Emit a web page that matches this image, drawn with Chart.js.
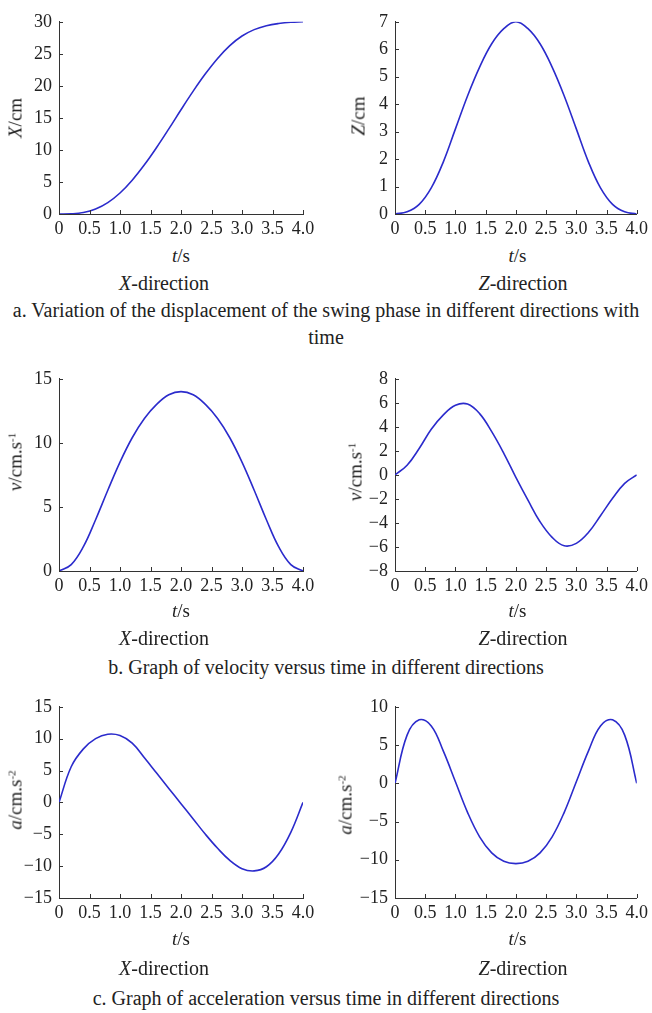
<!DOCTYPE html>
<html>
<head>
<meta charset="utf-8">
<script src="https://cdn.jsdelivr.net/npm/chart.js@4.4.1/dist/chart.umd.min.js"></script>
<style>
  body { margin: 0; background: #fff; }
  #page { position: relative; width: 652px; height: 1013px; overflow: hidden; font-family: "Liberation Serif", "Times New Roman", serif; color: #222; }
  #page canvas { position: absolute; }
  .txt { position: absolute; white-space: nowrap; line-height: 1; transform: translate(-50%, -50%); }
  .ytitle { transform: translate(-50%, -50%) rotate(-90deg); }
  sup { font-size: 58%; vertical-align: 0.55em; }
  .cap { position: absolute; left: 0; width: 652px; text-align: center; font-size: 20px; line-height: 27px; }
</style>
</head>
<body>
<div id="page"></div>
<script>
// time axis, seconds
const timeSec = [0, 0.2, 0.4, 0.6, 0.8, 1.0, 1.2, 1.4, 1.6, 1.8, 2.0, 2.2, 2.4, 2.6, 2.8, 3.0, 3.2, 3.4, 3.6, 3.8, 4.0];
const tickLabelsT = ['0', '0.5', '1.0', '1.5', '2.0', '2.5', '3.0', '3.5', '4.0'];

// a. displacement (cm)
const dispX = [0, 0.03, 0.23, 0.78, 1.78, 3.28, 5.28, 7.68, 10.38, 13.28, 16.28, 19.18, 21.88, 24.28, 26.28, 27.78, 28.78, 29.38, 29.73, 29.93, 30];
const dispZ = [0, 0.08, 0.35, 0.95, 1.9, 3.1, 4.3, 5.35, 6.2, 6.75, 7.0, 6.75, 6.2, 5.35, 4.3, 3.1, 1.9, 0.95, 0.35, 0.08, 0];
// b. velocity (cm/s)
const velX = [0, 0.5, 1.9, 4.0, 6.3, 8.5, 10.4, 11.9, 13.0, 13.75, 14.0, 13.75, 13.0, 11.9, 10.4, 8.5, 6.3, 4.0, 1.9, 0.5, 0];
const velZ = [0, 0.8, 2.2, 3.8, 5.0, 5.8, 5.9, 5.1, 3.6, 1.8, -0.2, -2.1, -3.9, -5.2, -5.9, -5.7, -4.8, -3.4, -1.95, -0.7, 0];
// c. acceleration (cm/s^2)
const accX = [0, 5.6, 8.4, 10.0, 10.7, 10.5, 9.3, 7.0, 4.6, 2.2, -0.2, -2.6, -5.0, -7.2, -9.1, -10.4, -10.75, -10.1, -8.1, -4.7, 0];
const accZ = [0, 6.3, 8.3, 7.5, 4.2, 0.2, -3.8, -7.0, -9.1, -10.2, -10.5, -10.2, -9.1, -7.0, -3.8, 0.2, 4.2, 7.5, 8.3, 6.3, 0];

const serif = '"Liberation Serif", "Times New Roman", serif';
const lineBlue = '#2b2bcc';
const axisGrey = '#333';
const page = document.getElementById('page');

const columns = [
  { x: 0, left: 59, right: 303, dirX: 164, dir: '<i>X</i>-direction' },
  { x: 326, left: 395, right: 640, dirX: 523, dir: '<i>Z</i>-direction' },
];
const rows = [
  { top: 18, bottom: 214, tY: 255, dirY: 283 },
  { top: 375, bottom: 571, tY: 610, dirY: 638 },
  { top: 703, bottom: 898, tY: 938, dirY: 968 },
];

const panels = [
  { col: 0, row: 0, values: dispX, min: 0, max: 30, step: 5, title: '<i>X</i>/cm', tx: 15, ty: 118 },
  { col: 1, row: 0, values: dispZ, min: 0, max: 7, step: 1, title: '<i>Z</i>/cm', tx: 358, ty: 116 },
  { col: 0, row: 1, values: velX, min: 0, max: 15, step: 5, title: '<i>v</i>/cm.s<sup>-1</sup>', tx: 15, ty: 462 },
  { col: 1, row: 1, values: velZ, min: -8, max: 8, step: 2, title: '<i>v</i>/cm.s<sup>-1</sup>', tx: 355, ty: 472 },
  { col: 0, row: 2, values: accX, min: -15, max: 15, step: 5, title: '<i>a</i>/cm.s<sup>-2</sup>', tx: 15, ty: 800 },
  { col: 1, row: 2, values: accZ, min: -15, max: 10, step: 5, title: '<i>a</i>/cm.s<sup>-2</sup>', tx: 345, ty: 805 },
];

// caption centre of first line
const captions = [
  { y: 310, html: 'a. Variation of the displacement of the swing phase in different directions with<br>time' },
  { y: 667, html: 'b. Graph of velocity versus time in different directions' },
  { y: 998, html: 'c. Graph of acceleration versus time in different directions' },
];

function addText(html, x, y, size, extra) {
  const el = document.createElement('div');
  el.className = 'txt' + (extra ? ' ' + extra : '');
  el.style.left = x + 'px';
  el.style.top = y + 'px';
  el.style.fontSize = size + 'px';
  el.innerHTML = html;
  page.appendChild(el);
}

// small tick marks pointing into the plot
const innerTicks = {
  id: 'innerTicks',
  afterDraw(chart) {
    const { ctx, chartArea, scales } = chart;
    ctx.save();
    ctx.strokeStyle = axisGrey;
    ctx.lineWidth = 1;
    ctx.beginPath();
    scales.x.ticks.forEach((t) => {
      const px = Math.round(scales.x.getPixelForValue(t.value)) + 0.5;
      ctx.moveTo(px, chartArea.bottom);
      ctx.lineTo(px, chartArea.bottom - 4);
    });
    scales.y.ticks.forEach((t) => {
      const py = Math.round(scales.y.getPixelForValue(t.value)) + 0.5;
      ctx.moveTo(chartArea.left, py);
      ctx.lineTo(chartArea.left + 4, py);
    });
    ctx.stroke();
    ctx.restore();
  },
};

const padTop = 14;
const xAxisH = 30;

panels.forEach((p) => {
  const col = columns[p.col];
  const row = rows[p.row];
  const canvas = document.createElement('canvas');
  const w = 326;
  const h = row.bottom - row.top + padTop + xAxisH;
  canvas.width = w;
  canvas.height = h;
  canvas.style.left = col.x + 'px';
  canvas.style.top = (row.top - padTop) + 'px';
  canvas.style.width = w + 'px';
  canvas.style.height = h + 'px';
  page.appendChild(canvas);

  new Chart(canvas, {
    type: 'line',
    data: {
      datasets: [{
        data: timeSec.map((t, i) => ({ x: t, y: p.values[i] })),
        borderColor: lineBlue,
        borderWidth: 1.6,
        pointRadius: 0,
        tension: 0.4,
        fill: false,
      }],
    },
    options: {
      responsive: false,
      animation: false,
      devicePixelRatio: 1,
      layout: { padding: { top: padTop, left: 0, right: col.x + w - col.right, bottom: 0 } },
      plugins: { legend: { display: false }, tooltip: { enabled: false } },
      scales: {
        x: {
          type: 'linear', min: 0, max: 4,
          grid: { display: false, drawTicks: false },
          border: { display: true, color: axisGrey, width: 1 },
          ticks: {
            stepSize: 0.5, autoSkip: false, maxRotation: 0, padding: 4,
            color: '#222', font: { family: serif, size: 18 },
            callback: (v, i) => tickLabelsT[i],
          },
          afterFit: (s) => { s.height = xAxisH; },
        },
        y: {
          min: p.min, max: p.max,
          grid: { display: false, drawTicks: false },
          border: { display: true, color: axisGrey, width: 1 },
          ticks: {
            stepSize: p.step, autoSkip: false, padding: 7,
            color: '#222', font: { family: serif, size: 18 },
            callback: (v) => String(v).replace('-', '\u2212'),
          },
          afterFit: (s) => { s.width = col.left - col.x; },
        },
      },
    },
    plugins: [innerTicks],
  });

  addText(p.title, p.tx, p.ty, 19, 'ytitle');
  addText('<i>t</i>/s', (col.left + col.right) / 2, row.tY, 19);
  addText(col.dir, col.dirX, row.dirY, 20);
});

captions.forEach((c) => {
  const el = document.createElement('div');
  el.className = 'cap';
  el.style.top = (c.y - 13.5) + 'px';
  el.innerHTML = c.html;
  page.appendChild(el);
});
</script>
</body>
</html>
